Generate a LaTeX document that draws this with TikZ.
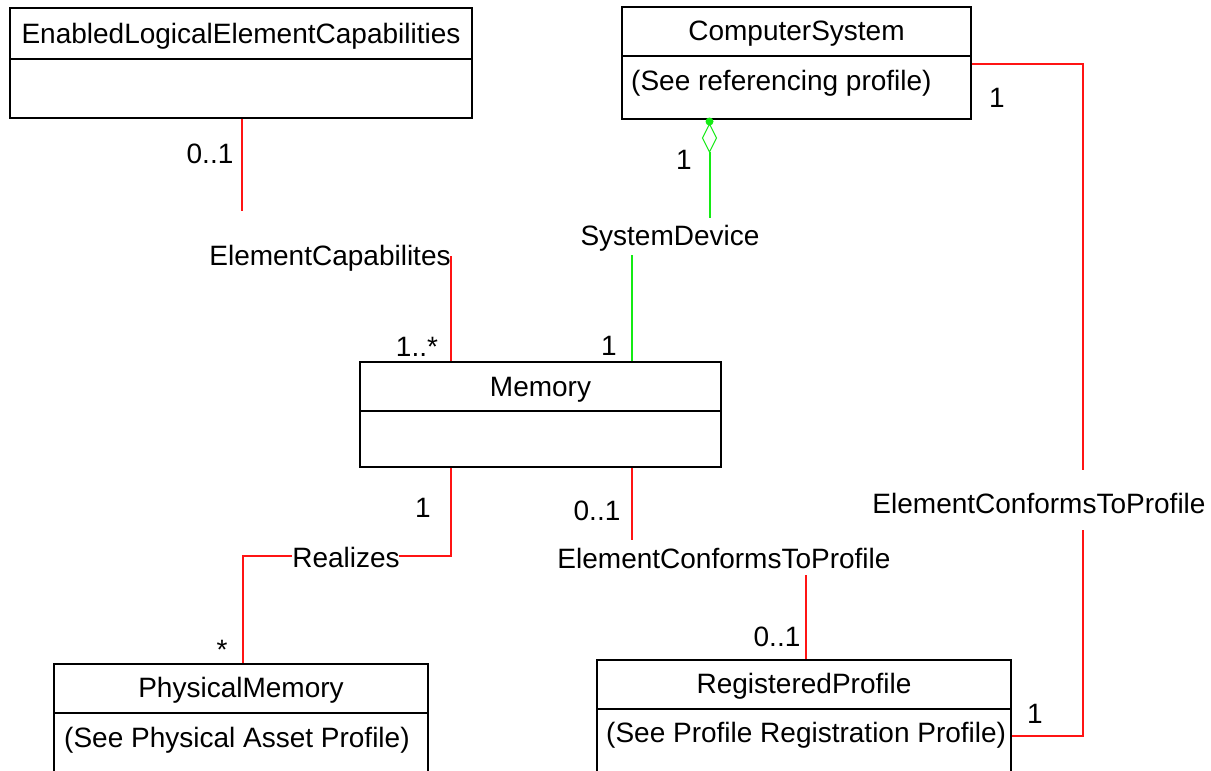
\documentclass[tikz,border=0pt]{standalone}
\usepackage{fontspec}
\setmainfont{Liberation Sans}
\definecolor{assoc}{RGB}{255,20,20}
\definecolor{aggr}{RGB}{20,235,20}
\tikzset{
  classbox/.style={draw=black,line width=1.6pt,fill=white,inner sep=0pt},
  divider/.style={draw=black,line width=1.6pt},
  txt/.style={font=\fontsize{28}{32}\selectfont,inner sep=0pt,text=black,yshift=-2.5pt},
  redline/.style={draw=assoc,line width=2pt},
  greenline/.style={draw=aggr,line width=2pt},
}
\begin{document}
\begin{tikzpicture}[x=1pt,y=-1pt]
\useasboundingbox (0,0) rectangle (1211,771);
\clip (0,0) rectangle (1211,771);
\fill[white] (0,0) rectangle (1211,771);

% classes
\node[classbox,minimum width=462pt,minimum height=110pt] (elec) at (241,63) {};
\draw[divider] (10,59) -- (472,59);
\node[txt] (elect) at (241,34) {EnabledLogicalElementCapabilities};

\node[classbox,minimum width=349pt,minimum height=112pt] (cs) at (796.5,63) {};
\draw[divider] (622,56) -- (971,56);
\node[txt] (cst) at (796.5,31) {ComputerSystem};
\node[txt,anchor=west] (css) at (631,81) {(See referencing profile)};

\node[classbox,minimum width=361pt,minimum height=105pt] (mem) at (540.5,414.5) {};
\draw[divider] (360,411) -- (721,411);
\node[txt] (memt) at (540.5,387) {Memory};

\node[classbox,anchor=north,minimum width=374pt,minimum height=130pt] (pm) at (241,663) {};
\draw[divider] (54,713) -- (428,713);
\node[txt] (pmt) at (241,688) {PhysicalMemory};
\node[txt,anchor=west] (pms) at (64,738) {(See Physical Asset Profile)};

\node[classbox,anchor=north,minimum width=414pt,minimum height=130pt] (rp) at (804,659) {};
\draw[divider] (597,709) -- (1011,709);
\node[txt] (rpt) at (804,684) {RegisteredProfile};
\node[txt,anchor=west] (rps) at (606,733) {(See Profile Registration Profile)};

% ElementCapabilites
\coordinate (ec1) at (241.5,211);
\coordinate (ec2) at (450.5,256);
\draw[redline] (elec.south -| ec1) -- (ec1);
\draw[redline] (ec2) -- (ec2 |- mem.north);
\node[txt] (ecl) at (330,256) {ElementCapabilites};
\node[txt] (m1) at (210,151) {0..1};
\node[txt] (m2) at (417,344) {1..*};

% SystemDevice
\coordinate (sd1) at (709.5,218);
\coordinate (sd2) at (631.5,255);
\draw[greenline] (709.5,152) -- (sd1);
\draw[greenline] (sd2) -- (sd2 |- mem.north);
\draw[greenline,line width=1.1pt,fill=white] (709.5,124) -- (716.5,138) -- (709.5,152) -- (702.5,138) -- cycle;
\fill[aggr] (709.5,121.5) circle (4pt);
\node[txt] (sdl) at (670,236) {SystemDevice};
\node[txt] (m3) at (684,157) {1};
\node[txt] (m4) at (609,343) {1};

% Realizes
\coordinate (r1) at (450.5,555.5);
\coordinate (r2) at (242.5,555.5);
\draw[redline] (r1 |- mem.south) -- (r1) -- (399,555.5);
\draw[redline] (292,555.5) -- (r2) -- (r2 |- pm.north);
\node[txt] (rl) at (346,555) {Realizes};
\node[txt] (m5) at (423,505) {1};
\node[txt] (m6) at (222,647) {*};

% ElementConformsToProfile (Memory)
\coordinate (ecp1) at (631.5,540);
\coordinate (ecp2) at (805.5,575);
\draw[redline] (ecp1 |- mem.south) -- (ecp1);
\draw[redline] (ecp2) -- (ecp2 |- rp.north);
\node[txt] (ecpl) at (724,556) {ElementConformsToProfile};
\node[txt] (m7) at (597,508) {0..1};
\node[txt] (m8) at (777,634) {0..1};

% ElementConformsToProfile (ComputerSystem)
\coordinate (c1) at (1082.5,63.5);
\coordinate (c2) at (1082.5,470);
\coordinate (c3) at (1082.5,530);
\coordinate (c4) at (1082.5,735.5);
\draw[redline] (cs.east |- c1) -- (c1) -- (c2);
\draw[redline] (c3) -- (c4) -- (c4 -| rp.east);
\node[txt] (ecpl2) at (1039,501) {ElementConformsToProfile};
\node[txt] (m9) at (997,95) {1};
\node[txt] (m10) at (1035,711) {1};
\end{tikzpicture}
\end{document}
